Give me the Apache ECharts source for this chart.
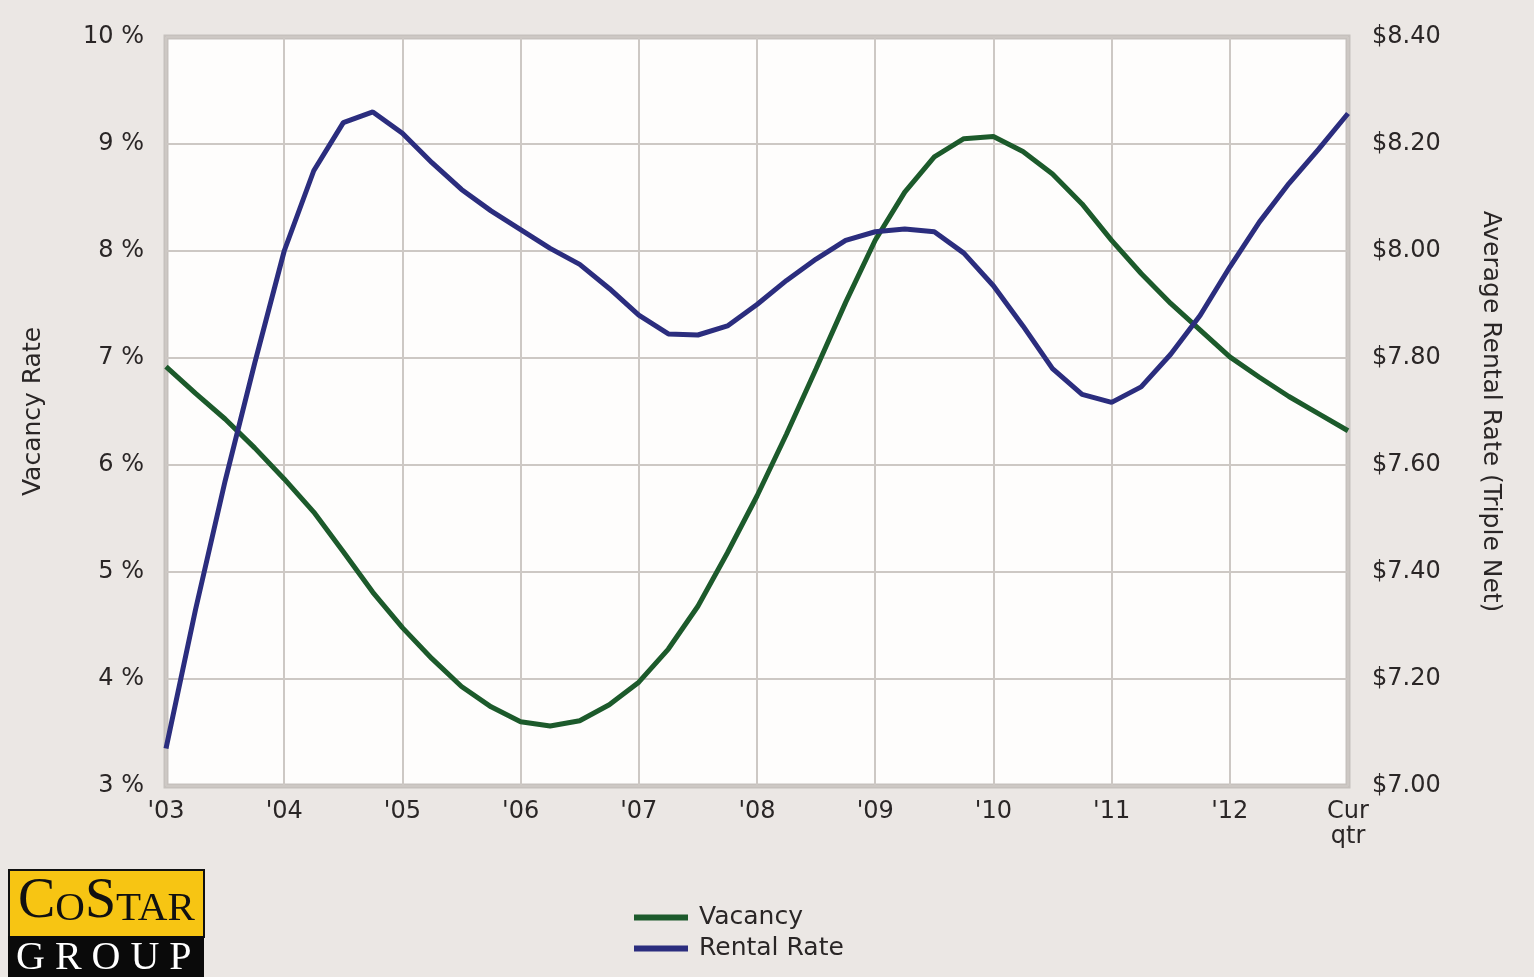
<!DOCTYPE html>
<html><head><meta charset="utf-8">
<script src="https://cdn.jsdelivr.net/npm/echarts@6/dist/echarts.min.js"></script>
<style>html,body{margin:0;padding:0;background:#ebe7e4;}#c{width:1534px;height:977px;}</style>
</head><body><div id="c"></div>
<script>
const quarters = ["1Q03","2Q03","3Q03","4Q03","1Q04","2Q04","3Q04","4Q04","1Q05","2Q05","3Q05","4Q05",
  "1Q06","2Q06","3Q06","4Q06","1Q07","2Q07","3Q07","4Q07","1Q08","2Q08","3Q08","4Q08",
  "1Q09","2Q09","3Q09","4Q09","1Q10","2Q10","3Q10","4Q10","1Q11","2Q11","3Q11","4Q11",
  "1Q12","2Q12","3Q12","4Q12","Cur qtr"];
const tickLabels = ["'03","'04","'05","'06","'07","'08","'09","'10","'11","'12","Cur\nqtr"];
const vacancy = [6.92,6.67,6.43,6.16,5.87,5.56,5.19,4.81,4.48,4.19,3.93,3.74,3.60,3.56,3.61,3.76,
  3.97,4.28,4.68,5.18,5.71,6.29,6.90,7.52,8.10,8.55,8.88,9.05,9.07,8.93,8.72,8.44,8.10,7.79,7.51,7.26,
  7.01,6.82,6.64,6.48,6.32];
const rentalRate = [7.07,7.33,7.57,7.79,8.00,8.15,8.24,8.26,8.22,8.165,8.115,8.075,8.04,8.005,7.975,7.93,
  7.88,7.845,7.843,7.86,7.90,7.945,7.985,8.02,8.036,8.041,8.036,7.996,7.935,7.86,7.78,7.732,7.717,7.746,
  7.807,7.88,7.97,8.054,8.126,8.19,8.257];
const seriesNames = ["Vacancy","Rental Rate"];
const leftTitle = "Vacancy Rate";
const rightTitle = "Average Rental Rate (Triple Net)";

const chart = echarts.init(document.getElementById('c'));
const lblFont = {fontFamily:'DejaVu Sans', fontSize:24, color:'#2a2626'};
const gridColor = '#cdc8c4';
chart.setOption({
  backgroundColor:'#ebe7e4',
  animation:false,
  grid:{left:166,right:186,top:37,bottom:191,show:true,backgroundColor:'#fefdfc',borderColor:'#c6c1bd',borderWidth:5},
  legend:{
    orient:'vertical', left:634, top:905, padding:0, itemWidth:54, itemHeight:6, itemGap:6,
    icon:'rect', selectedMode:false,
    textStyle:{fontFamily:'DejaVu Sans', fontSize:25, color:'#2a2626', padding:[0,0,0,6]},
    data:seriesNames
  },
  xAxis:{
    type:'category', data:quarters, boundaryGap:false,
    axisLine:{show:false}, axisTick:{show:false},
    axisLabel:Object.assign({interval:3, margin:13, lineHeight:25,
      formatter:(v,i)=> (i%4===0 ? tickLabels[i/4] : '')}, lblFont),
    splitLine:{show:true, interval:3, lineStyle:{color:gridColor, width:2}}
  },
  yAxis:[
    {type:'value', min:3, max:10, interval:1, position:'left',
     name:leftTitle, nameLocation:'middle', nameGap:120,
     nameTextStyle:{fontFamily:'DejaVu Sans', fontSize:25, color:'#2a2626'},
     axisLine:{show:false}, axisTick:{show:false},
     axisLabel:Object.assign({margin:22, formatter:v=>v+' %'}, lblFont),
     splitLine:{show:true, lineStyle:{color:gridColor, width:2}}},
    {type:'value', min:7, max:8.4, interval:0.2, position:'right',
     name:rightTitle, nameLocation:'middle', nameGap:130, nameRotate:-90,
     nameTextStyle:{fontFamily:'DejaVu Sans', fontSize:25, color:'#2a2626'},
     axisLine:{show:false}, axisTick:{show:false},
     axisLabel:Object.assign({margin:24, formatter:v=>'$'+v.toFixed(2)}, lblFont),
     splitLine:{show:false}}
  ],
  series:[
    {name:seriesNames[0], type:'line', yAxisIndex:0, data:vacancy, showSymbol:false,
     lineStyle:{color:'#1c5a2b', width:5}, itemStyle:{color:'#1c5a2b'}},
    {name:seriesNames[1], type:'line', yAxisIndex:1, data:rentalRate, showSymbol:false,
     lineStyle:{color:'#2b2d7e', width:5}, itemStyle:{color:'#2b2d7e'}}
  ],
  graphic:[
    {type:'rect', left:8, top:869, shape:{width:195,height:67}, style:{fill:'#f7c513', stroke:'#111', lineWidth:2}},
    {type:'rect', left:8, top:936, shape:{width:196,height:41}, style:{fill:'#0a0a0a'}},
    {type:'text', left:18, top:874, style:{
      text:'{b|C}{s|O}{b|S}{s|TAR}', rich:{
        b:{fontFamily:'Liberation Serif', fontSize:56, fill:'#111', verticalAlign:'bottom'},
        s:{fontFamily:'Liberation Serif', fontSize:41, fill:'#111', verticalAlign:'bottom'}}}},
    {type:'text', left:16, top:938, style:{text:'G R O U P', fontFamily:'Liberation Serif', fontSize:40, fill:'#fff'}}
  ]
});
</script></body></html>
